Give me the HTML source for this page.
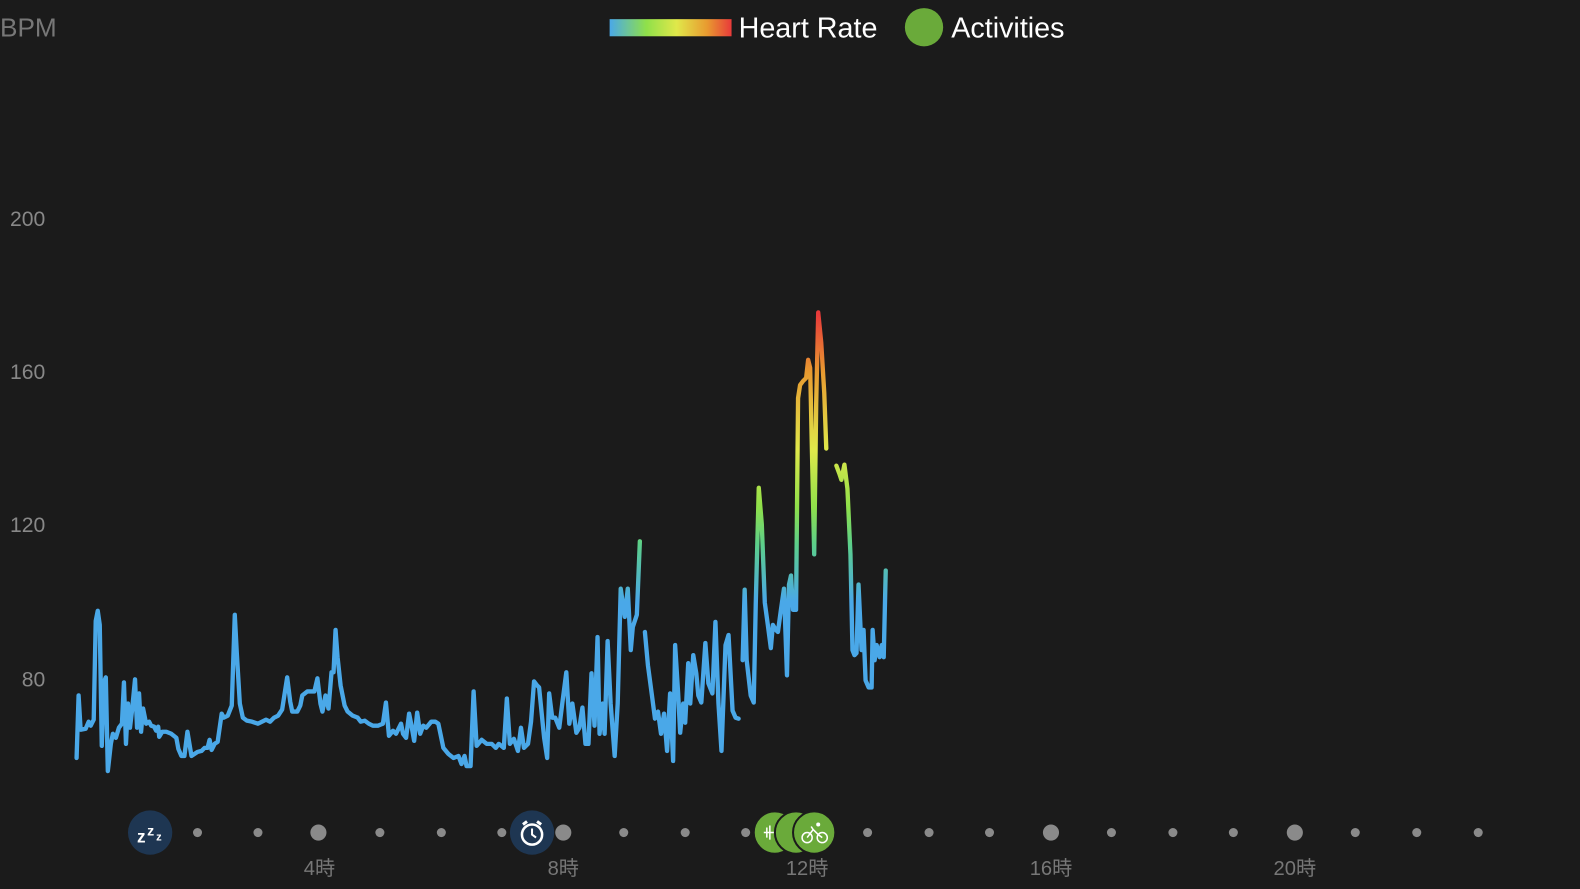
<!DOCTYPE html>
<html><head><meta charset="utf-8"><style>
body{margin:0;background:#1b1b1b;width:1580px;height:889px;overflow:hidden}
svg{display:block}
svg text{font-family:"Liberation Sans","Noto Sans CJK JP",sans-serif}
</style></head><body>
<svg width="1580" height="889" viewBox="0 0 1568 882" preserveAspectRatio="none" xmlns="http://www.w3.org/2000/svg">
<defs>
<linearGradient id="hr" gradientUnits="userSpaceOnUse" x1="0" y1="597" x2="0" y2="312">
<stop offset="0" stop-color="#4aa8e8"/>
<stop offset="0.2" stop-color="#5ccf8a"/>
<stop offset="0.33" stop-color="#8fe04a"/>
<stop offset="0.53" stop-color="#e0e84a"/>
<stop offset="0.8" stop-color="#e89a30"/>
<stop offset="1" stop-color="#e83a3a"/>
</linearGradient>
<linearGradient id="lg" x1="0" y1="0" x2="1" y2="0">
<stop offset="0" stop-color="#4aa8e8"/><stop offset="0.3" stop-color="#8fe04a"/>
<stop offset="0.55" stop-color="#e0e84a"/><stop offset="0.8" stop-color="#e89a30"/><stop offset="1" stop-color="#e83a3a"/>
</linearGradient>
</defs>
<text x="0" y="36" font-size="26" fill="#777">BPM</text>
<g font-size="21" fill="#888" text-anchor="end">
<text x="45" y="224">200</text><text x="45" y="376">160</text><text x="45" y="528">120</text><text x="45" y="681">80</text>
</g>
<rect x="605" y="19" width="121" height="17" fill="url(#lg)"/>
<text x="733" y="37" font-size="28.5" fill="#fff">Heart Rate</text>
<circle cx="917" cy="27" r="19" fill="#6aaa3a"/>
<text x="944" y="37" font-size="28.5" fill="#fff">Activities</text>
<g fill="none" stroke="url(#hr)" stroke-width="4.3" stroke-linejoin="round" stroke-linecap="round">
<polyline points="76,752 78,690 80,724 85,723 88,716 90,720 93,714 95,616 97,606 99,620 101,740 103,677 105,672 107,765 110,738 112,728 115,732 118,722 121,718 123,677 125,738 127,698 129,722 131,705 134,674 136,722 138,688 140,726 142,703 145,718 148,716 150,720 153,721 155,725 157,721 158,731 161,726 165,726 170,728 175,732 177,743 180,750 183,750 186,726 188,738 190,750 193,748 196,746 200,745 203,742 206,742 208,734 210,744 213,738 216,736 220,708 222,712 226,710 230,700 233,610 235,648 238,698 241,712 245,715 250,716 256,718 260,716 264,714 268,716 272,712 276,710 280,704 285,672 288,696 290,706 295,706 298,700 300,690 305,686 312,686 315,673 318,698 320,706 323,690 326,703 329,667 331,667 333,625 335,652 338,680 342,700 345,706 350,710 355,712 358,716 362,715 366,718 370,720 375,720 380,718 383,697 386,730 390,725 393,728 398,718 400,728 403,732 406,708 408,718 411,735 414,707 417,728 420,720 423,722 428,716 432,716 435,718 440,742 445,748 450,752 455,750 458,758 461,750 463,760 467,760 470,686 473,740 478,734 483,738 488,738 492,742 495,738 500,742 503,693 506,738 510,733 514,745 517,722 520,742 524,738 527,716 530,676 533,680 535,682 540,732 543,752 545,688 548,712 551,712 555,722 558,698 562,667 565,718 568,698 572,727 575,722 578,702 581,738 584,738 587,668 590,720 593,632 595,728 598,698 600,728 603,636 606,698 610,750 613,698 616,584 620,612 623,584 626,645 628,622 632,610 635,537"/>
<polyline points="640,627 643,660 647,690 650,713 653,706 656,728 659,708 662,745 665,688 668,755 670,640 673,688 675,727 678,698 680,717 683,658 685,698 688,650 691,668 693,690 696,697 700,638 703,678 707,688 710,617 713,698 716,745 720,640 723,630 727,705 730,712 733,713"/>
<polyline points="737,655 739,585 741,655 745,690 748,697 750,600 753,484 756,520 759,598 762,620 765,643 767,620 770,625 772,627 775,605 778,584 781,670 783,580 785,571 787,605 790,605 792,395 794,382 797,378 800,375 802,357 804,365 808,550 810,400 812,310 815,340 818,390 820,445"/>
<polyline points="830,462 833,470 835,476 838,461 841,485 844,550 846,645 848,650 850,648 852,580 855,645 857,625 859,675 862,682 865,682 866,625 868,655 870,640 873,652 875,640 877,652 879,566"/>
</g>
<g fill="#8a8a8a">
<circle cx="196" cy="826" r="4.5"/><circle cx="256" cy="826" r="4.5"/><circle cx="316" cy="826" r="8"/>
<circle cx="377" cy="826" r="4.5"/><circle cx="438" cy="826" r="4.5"/><circle cx="498" cy="826" r="4.5"/>
<circle cx="559" cy="826" r="8"/><circle cx="619" cy="826" r="4.5"/><circle cx="680" cy="826" r="4.5"/>
<circle cx="740" cy="826" r="4.5"/><circle cx="861" cy="826" r="4.5"/><circle cx="922" cy="826" r="4.5"/>
<circle cx="982" cy="826" r="4.5"/><circle cx="1043" cy="826" r="8"/><circle cx="1103" cy="826" r="4.5"/>
<circle cx="1164" cy="826" r="4.5"/><circle cx="1224" cy="826" r="4.5"/><circle cx="1285" cy="826" r="8"/>
<circle cx="1345" cy="826" r="4.5"/><circle cx="1406" cy="826" r="4.5"/><circle cx="1467" cy="826" r="4.5"/>
</g>
<circle cx="149" cy="826" r="22" fill="#1e3652"/>
<text x="136" y="836" font-size="17" font-weight="bold" fill="#fff">z</text><text x="146" y="829" font-size="14" font-weight="bold" fill="#fff">z</text><text x="155" y="834" font-size="11" font-weight="bold" fill="#fff">z</text>
<circle cx="528" cy="826" r="22" fill="#1e3652"/>
<circle cx="528" cy="828" r="10" fill="none" stroke="#fff" stroke-width="2.5"/>
<path d="M528 822v6l4 3" stroke="#fff" stroke-width="2" fill="none"/>
<path d="M519 818l4-3M537 818l-4-3" stroke="#fff" stroke-width="3"/>
<circle cx="769" cy="826" r="21" fill="#6aaa3a" stroke="#1b1b1b" stroke-width="2"/>
<path d="M758 826h12M761 821v10M764 819v14" stroke="#fff" stroke-width="1.5"/>
<circle cx="790" cy="826" r="21" fill="#6aaa3a" stroke="#1b1b1b" stroke-width="2"/>
<circle cx="808" cy="826" r="21" fill="#6aaa3a" stroke="#1b1b1b" stroke-width="2"/>
<circle cx="801" cy="831" r="5" fill="none" stroke="#fff" stroke-width="1.5"/><circle cx="816" cy="831" r="5" fill="none" stroke="#fff" stroke-width="1.5"/>
<path d="M801 831l6-8 5 5 4 3M807 823l-2-3" stroke="#fff" stroke-width="1.5" fill="none"/><circle cx="812" cy="818" r="2" fill="#fff"/>
<g font-size="20" fill="#777" text-anchor="middle">
<text x="317" y="868">4時</text><text x="559" y="868">8時</text><text x="801" y="868">12時</text>
<text x="1043" y="868">16時</text><text x="1285" y="868">20時</text>
</g>
</svg>
</body></html>
